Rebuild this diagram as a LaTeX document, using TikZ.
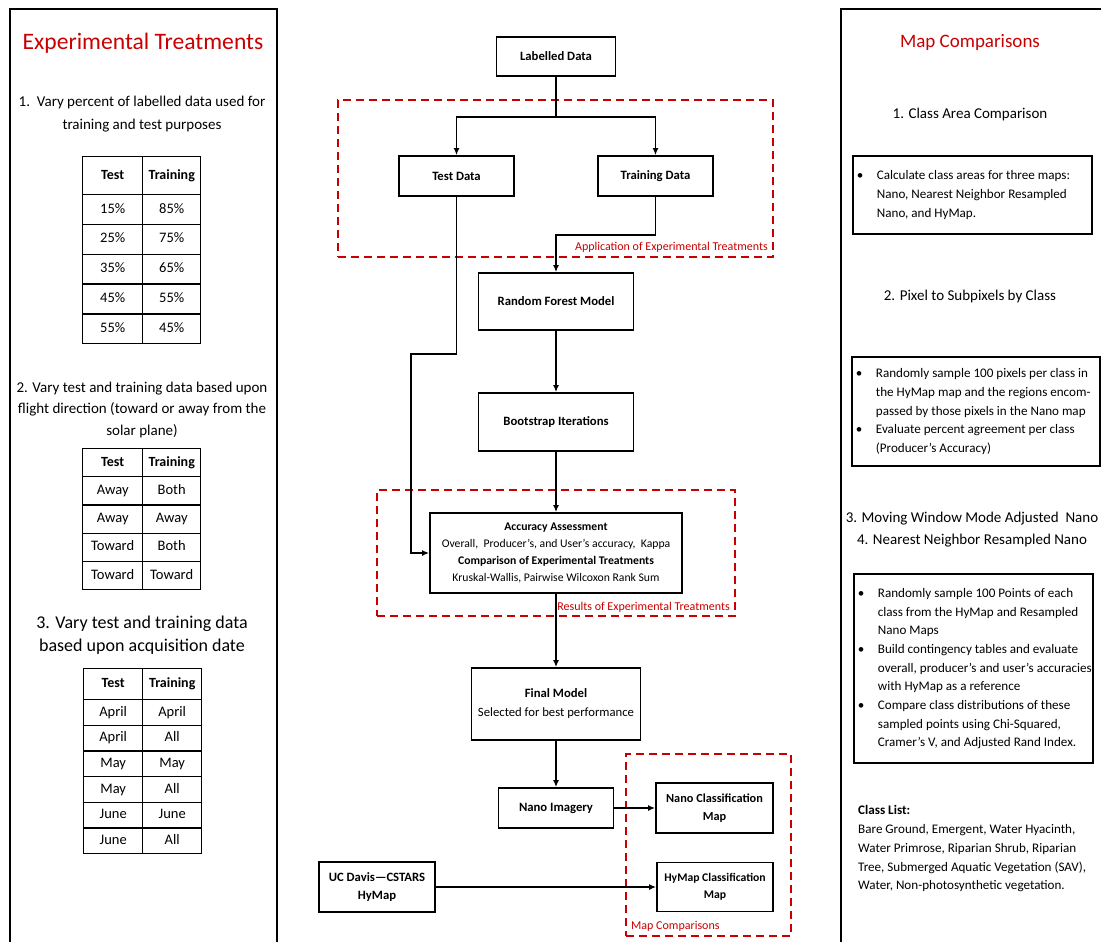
\documentclass[tikz,border=0pt]{standalone}
\usepackage{fontspec}
\setmainfont{Carlito}
\usepackage{xcolor}
\usetikzlibrary{arrows.meta, positioning}
\definecolor{mapred}{RGB}{200,0,0}

\begin{document}
\begin{tikzpicture}[x=1pt, y=-1pt, >={Latex[length=7pt,width=6pt]},
  flowbox/.style={draw, line width=1.8pt, inner sep=2pt, align=center, font=\fontsize{12.7}{18}\selectfont\bfseries},
  panel/.style={draw, line width=2pt, anchor=north west},
  region/.style={draw=mapred, line width=2pt, dash pattern=on 8pt off 5pt},
  redlabel/.style={text=mapred, inner sep=0pt, font=\fontsize{12}{14}\selectfont},
  paneltitle/.style={text=mapred, inner sep=0pt},
  note/.style={align=center, inner sep=0pt, font=\fontsize{15}{23}\selectfont},
  cell/.style={draw, line width=1.4pt, anchor=north west, inner sep=0pt, text height=10pt, text depth=3pt, font=\fontsize{14.5}{17}\selectfont},
  headcell/.style={cell, font=\fontsize{14}{17}\selectfont\bfseries},
  conn/.style={->, line width=1.6pt},
  bulletbox/.style={draw, line width=1.8pt, inner xsep=4pt, inner ysep=0pt, anchor=north west, font=\fontsize{13.1}{18.7}\selectfont}]
\useasboundingbox (0,0) rectangle (1101,942);

% side panels
\node[panel, minimum width=267, minimum height=960] (leftpanel) at (9,8) {};
\node[panel, minimum width=300, minimum height=960] (rightpanel) at (840,8) {};

% experimental treatments
\node[paneltitle, font=\fontsize{23.6}{28}\selectfont] (exptitle) at (143,43.5) {Experimental Treatments};
\node[note] (vary1) at (142,114.5) {1.\ \ Vary percent of labelled data used for\\training and test purposes};
\node[headcell, minimum width=60, minimum height=38] (pct-h-a) at (82,156) {Test};
\node[headcell, minimum width=58, minimum height=38] (pct-h-b) at (142,156) {Training};
\foreach \te/\tr [count=\i] in {15/85, 25/75, 35/65, 45/55, 55/45} {
  \node[cell, minimum width=60, minimum height=29.8] (pct-\i-a) at (82,{194+29.8*(\i-1)}) {\te\%};
  \node[cell, minimum width=58, minimum height=29.8] (pct-\i-b) at (142,{194+29.8*(\i-1)}) {\tr\%};
}
\node[note, font=\fontsize{15}{21.5}\selectfont] (vary2) at (142,409.5) {2. Vary test and training data based upon\\flight direction (toward or away from the\\solar plane)};
\node[headcell, minimum width=60, minimum height=28] (dir-h-a) at (82,448) {Test};
\node[headcell, minimum width=58, minimum height=28] (dir-h-b) at (142,448) {Training};
\foreach \te/\tr [count=\i] in {Away/Both, Away/Away, Toward/Both, Toward/Toward} {
  \node[cell, minimum width=60, minimum height=28.25] (dir-\i-a) at (82,{476+28.25*(\i-1)}) {\te};
  \node[cell, minimum width=58, minimum height=28.25] (dir-\i-b) at (142,{476+28.25*(\i-1)}) {\tr};
}
\node[note, font=\fontsize{18}{23}\selectfont] (vary3) at (142,635.5) {3. Vary test and training data\\based upon acquisition date};
\node[headcell, minimum width=59, minimum height=31] (date-h-a) at (83,668) {Test};
\node[headcell, minimum width=59, minimum height=31] (date-h-b) at (142,668) {Training};
\foreach \te/\tr [count=\i] in {April/April, April/All, May/May, May/All, June/June, June/All} {
  \node[cell, minimum width=59, minimum height=25.67] (date-\i-a) at (83,{699+25.67*(\i-1)}) {\te};
  \node[cell, minimum width=59, minimum height=25.67] (date-\i-b) at (142,{699+25.67*(\i-1)}) {\tr};
}

% dashed regions
\node[region, minimum width=435, minimum height=157] (apparea) at (555.5,178.5) {};
\node[redlabel, anchor=base east] (applabel) at (768,250) {Application of Experimental Treatments};
\node[region, minimum width=358, minimum height=126] (resarea) at (556,553) {};
\node[redlabel, anchor=base east] (reslabel) at (730,610) {Results of Experimental Treatments};
\node[region, minimum width=165, minimum height=182] (maparea) at (708.5,845) {};
\node[redlabel, anchor=base west] (maplabel) at (631,929) {Map Comparisons};

% workflow
\node[flowbox, minimum width=119, minimum height=39] (lab) at (556,56.5) {Labelled Data};
\node[flowbox, minimum width=115, minimum height=40] (test) at (456.5,176) {Test Data};
\node[flowbox, minimum width=115, minimum height=40] (train) at (655.5,176) {Training Data};
\node[flowbox, minimum width=155, minimum height=57] (rf) at (556,301.5) {Random Forest Model};
\node[flowbox, minimum width=155, minimum height=58] (boot) at (556,422) {Bootstrap Iterations};
\node[flowbox, minimum width=252, minimum height=80, font=\fontsize{11.7}{17.3}\selectfont\bfseries] (acc) at (556,553) {Accuracy Assessment\\\textmd{Overall,\ \ Producer’s, and User’s accuracy,\ \ Kappa}\\Comparison of Experimental Treatments\\\textmd{Kruskal-Wallis, Pairwise Wilcoxon Rank Sum}};
\node[flowbox, minimum width=169, minimum height=72, font=\fontsize{12.7}{19}\selectfont\bfseries] (final) at (556,704) {Final Model\\\textmd{Selected for best performance}};
\node[flowbox, minimum width=115, minimum height=40] (nano) at (556,808) {Nano Imagery};
\node[flowbox, minimum width=117, minimum height=50, font=\fontsize{12.3}{18}\selectfont\bfseries] (nanomap) at (714.5,808) {Nano Classification\\Map};
\node[flowbox, minimum width=116, minimum height=49, font=\fontsize{11.7}{17}\selectfont\bfseries] (hymap) at (715,887) {HyMap Classification\\Map};
\node[flowbox, minimum width=116, minimum height=50] (ucd) at (377,887) {UC Davis—CSTARS\\HyMap};

\draw[line width=1.6pt] (lab.south) -- ++(0,40) coordinate (split);
\draw[conn] (split) -| (test.north);
\draw[conn] (split) -| (train.north);
\draw[conn] (train.south) -- ++(0,38) -| (rf.north);
\draw[conn] (test.south) |- ++(-45.5,157) |- (acc.west);
\draw[conn] (rf) -- (boot);
\draw[conn] (boot) -- (acc);
\draw[conn] (acc) -- (final);
\draw[conn] (final) -- (nano);
\draw[conn] (nano) -- (nanomap);
\draw[conn] (ucd) -- (hymap);

% map comparisons
\node[paneltitle, font=\fontsize{19}{22}\selectfont] (maptitle) at (970,42) {Map Comparisons};
\node[note] (cmp1) at (970,115) {1. Class Area Comparison};
\node[bulletbox, minimum width=239, minimum height=78] (areabox) at (852,155) {\raisebox{-2pt}{\makebox[231pt][l]{\begin{tabular}{@{}p{20pt}@{}l@{}}\textbullet & Calculate class areas for three maps:\\ & Nano, Nearest Neighbor Resampled\\ & Nano, and HyMap.\end{tabular}}}};
\node[note] (cmp2) at (970,296) {2. Pixel to Subpixels by Class};
\node[bulletbox, minimum width=248, minimum height=109] (pixbox) at (851,356) {\makebox[240pt][l]{\begin{tabular}{@{}p{20pt}@{}l@{}}\textbullet & Randomly sample 100 pixels per class in\\ & the HyMap map and the regions encom-\\ & passed by those pixels in the Nano map\\\textbullet & Evaluate percent agreement per class\\ & (Producer’s Accuracy)\end{tabular}}};
\node[note, font=\fontsize{15}{22}\selectfont] (cmp3) at (972,530) {3. Moving Window Mode Adjusted\ \ Nano\\4. Nearest Neighbor Resampled Nano};
\node[bulletbox, minimum width=239, minimum height=189] (pointbox) at (853,573) {\raisebox{-1.5pt}{\makebox[231pt][l]{\begin{tabular}{@{}p{20pt}@{}l@{}}\textbullet & Randomly sample 100 Points of each\\ & class from the HyMap and Resampled\\ & Nano Maps\\\textbullet & Build contingency tables and evaluate\\ & overall, producer’s and user’s accuracies\\ & with HyMap as a reference\\\textbullet & Compare class distributions of these\\ & sampled points using Chi-Squared,\\ & Cramer’s V, and Adjusted Rand Index.\end{tabular}}}};
\node[anchor=north west, align=left, inner sep=0pt, font=\fontsize{13.1}{18.9}\selectfont] (classlist) at (858,805) {\textbf{Class List:}\\Bare Ground, Emergent, Water Hyacinth,\\Water Primrose, Riparian Shrub, Riparian\\Tree, Submerged Aquatic Vegetation (SAV),\\Water, Non-photosynthetic vegetation.};
\end{tikzpicture}
\end{document}
